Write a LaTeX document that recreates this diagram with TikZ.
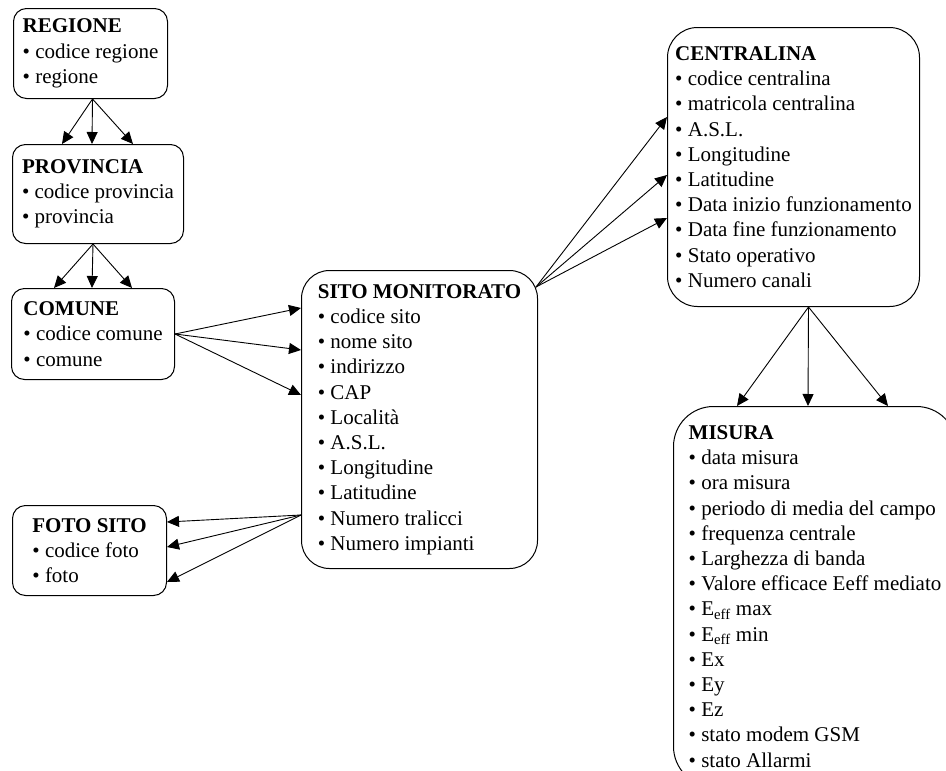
\documentclass[tikz,border=0pt]{standalone}
\usepackage{fontspec}
\setmainfont{Liberation Serif}
\usetikzlibrary{arrows.meta,calc}

\begin{document}
\begin{tikzpicture}[
    x=1pt, y=-1pt,
    entity/.style={
      draw,
      line width=1pt,
      rounded corners=13pt,
      anchor=north west,
      align=left,
      inner sep=0pt,
      font=\fontsize{21}{25.2}\selectfont
    },
    arrow/.style={
      -{Triangle[length=12pt,width=11pt]},
      line width=0.9pt
    }
  ]

  \useasboundingbox (0,0) rectangle (946,771);
  \clip (0,0) rectangle (946,771);

  \node[entity, minimum width=154pt, minimum height=90pt] (regione) at (13,8) {
    \textbf{REGIONE}\\
    • codice regione\\
    • regione
  };

  \node[entity, minimum width=171pt, minimum height=99pt] (provincia) at (12,144) {
    \textbf{PROVINCIA}\\
    • codice provincia\\
    • provincia
  };

  \node[entity, minimum width=163pt, minimum height=91pt] (comune) at (11,288) {
    \textbf{COMUNE}\\
    • codice comune\\
    • comune
  };

  \node[entity, minimum width=154pt, minimum height=90pt] (foto) at (12,505) {
    \textbf{FOTO SITO}\\
    • codice foto\\
    • foto
  };

  \node[entity, rounded corners=28pt, minimum width=236pt, minimum height=298pt] (sito) at (301,270) {
    \textbf{SITO MONITORATO}\\
    • codice sito\\
    • nome sito\\
    • indirizzo\\
    • CAP\\
    • Località\\
    • A.S.L.\\
    • Longitudine\\
    • Latitudine\\
    • Numero tralicci\\
    • Numero impianti
  };

  \node[entity, rounded corners=30pt, minimum width=252pt, minimum height=279pt] (centralina) at (667,27) {
    \textbf{CENTRALINA}\\
    • codice centralina\\
    • matricola centralina\\
    • A.S.L.\\
    • Longitudine\\
    • Latitudine\\
    • Data inizio funzionamento\\
    • Data fine funzionamento\\
    • Stato operativo\\
    • Numero canali
  };

  \node[entity, rounded corners=40pt, minimum width=283pt, minimum height=380pt] (misura) at (673,406) {
    \textbf{MISURA}\\
    • data misura\\
    • ora misura\\
    • periodo di media del campo\\
    • frequenza centrale\\
    • Larghezza di banda\\
    • Valore efficace Eeff mediato\\
    • E\textsubscript{eff} max\\
    • E\textsubscript{eff} min\\
    • Ex\\
    • Ey\\
    • Ez\\
    • stato modem GSM\\
    • stato Allarmi
  };

  % uno-a-molti
  \draw[arrow] ($(regione.south)+(2,0)$) -- ($(provincia.north west)+(50,0)$);
  \draw[arrow] ($(regione.south)+(2,0)$) -- ($(provincia.north west)+(80,0)$);
  \draw[arrow] ($(regione.south)+(2,0)$) -- ($(provincia.north west)+(121,0)$);

  \draw[arrow] ($(provincia.south)+(-5,0)$) -- ($(comune.north west)+(43,0)$);
  \draw[arrow] ($(provincia.south)+(-5,0)$) -- ($(comune.north west)+(81,0)$);
  \draw[arrow] ($(provincia.south)+(-5,0)$) -- ($(comune.north west)+(121,0)$);

  \draw[arrow] (comune.east) -- ($(sito.north west)+(0,38)$);
  \draw[arrow] (comune.east) -- ($(sito.north west)+(0,80)$);
  \draw[arrow] (comune.east) -- ($(sito.north west)+(0,125)$);

  \draw[arrow] ($(sito.north west)+(0,245)$) -- ($(foto.north east)+(0,17)$);
  \draw[arrow] ($(sito.north west)+(0,245)$) -- ($(foto.north east)+(0,42)$);
  \draw[arrow] ($(sito.north west)+(0,245)$) -- ($(foto.north east)+(0,77)$);

  \draw[arrow] ($(sito.north east)+(-2,17)$) -- ($(centralina.north west)+(0,90)$);
  \draw[arrow] ($(sito.north east)+(-2,17)$) -- ($(centralina.north west)+(0,148)$);
  \draw[arrow] ($(sito.north east)+(-2,17)$) -- ($(centralina.north west)+(0,191)$);

  \draw[arrow] ($(centralina.south)+(15,0)$) -- ($(misura.north west)+(64,0)$);
  \draw[arrow] ($(centralina.south)+(15,0)$) -- ($(misura.north west)+(135,0)$);
  \draw[arrow] ($(centralina.south)+(15,0)$) -- ($(misura.north west)+(215,0)$);

\end{tikzpicture}
\end{document}
